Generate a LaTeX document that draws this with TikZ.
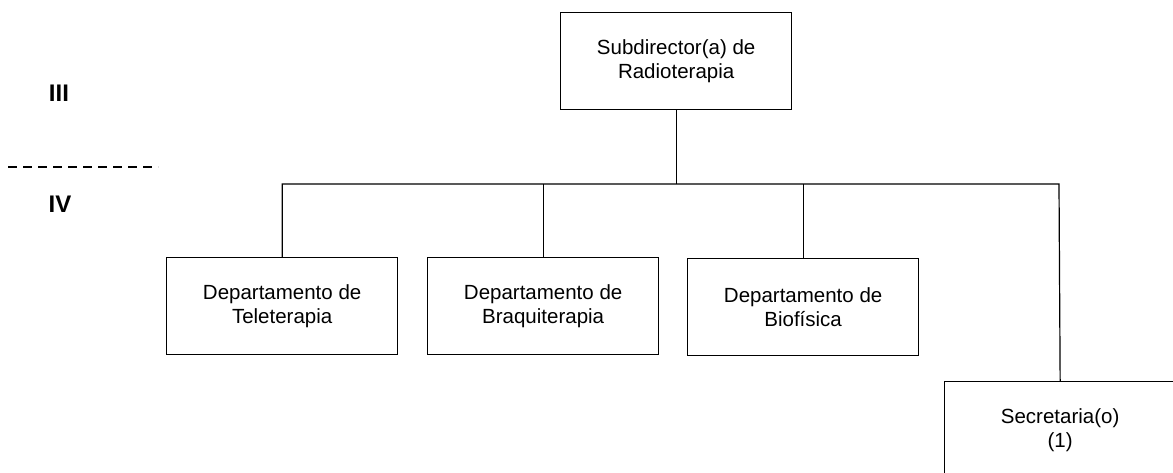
\documentclass[tikz,border=0pt]{standalone}
\usepackage{fontspec}
\setmainfont{Liberation Sans}
\begin{document}
\begin{tikzpicture}[x=1pt,y=-1pt,
  unit/.style={draw=black, line width=1.3pt, minimum width=231pt, minimum height=97pt,
    inner sep=0pt, align=center, font=\fontsize{20.5}{24}\selectfont, anchor=north west},
  link/.style={draw=black, line width=1.2pt},
  level/.style={font=\fontsize{24}{28}\selectfont\bfseries}]
\clip (0,0) rectangle (1173,473);
\fill[white] (0,0) rectangle (1173,473);
\node[unit] (top) at (560,12) {Subdirector(a) de\\Radioterapia};
\node[unit] (tele) at (166,257) {Departamento de\\Teleterapia};
\node[unit] (braq) at (427,257) {Departamento de\\Braquiterapia};
\node[unit] (bio) at (687,258) {Departamento de\\Biofísica};
\node[unit] (sec) at (944,381) {Secretaria(o)\\(1)};
\coordinate (busL) at (283,184);
\coordinate (busR) at (1059,184);
\draw[link] (top.south) -- (top.south |- busL);
\draw[link] (tele.north) -- (tele.north |- busL) -- (busR) -- (sec.north);
\draw[link] (braq.north) -- (braq.north |- busL);
\draw[link] (bio.north) -- (bio.north |- busL);
\node[level] (l3) at (59,93) {III};
\node[level] (l4) at (60,204) {IV};
\coordinate (dashL) at (8,167);
\coordinate (dashR) at (158,167);
\draw[line width=1.2pt, dash pattern=on 9pt off 6pt] (dashL) -- (dashR);
\end{tikzpicture}
\end{document}
